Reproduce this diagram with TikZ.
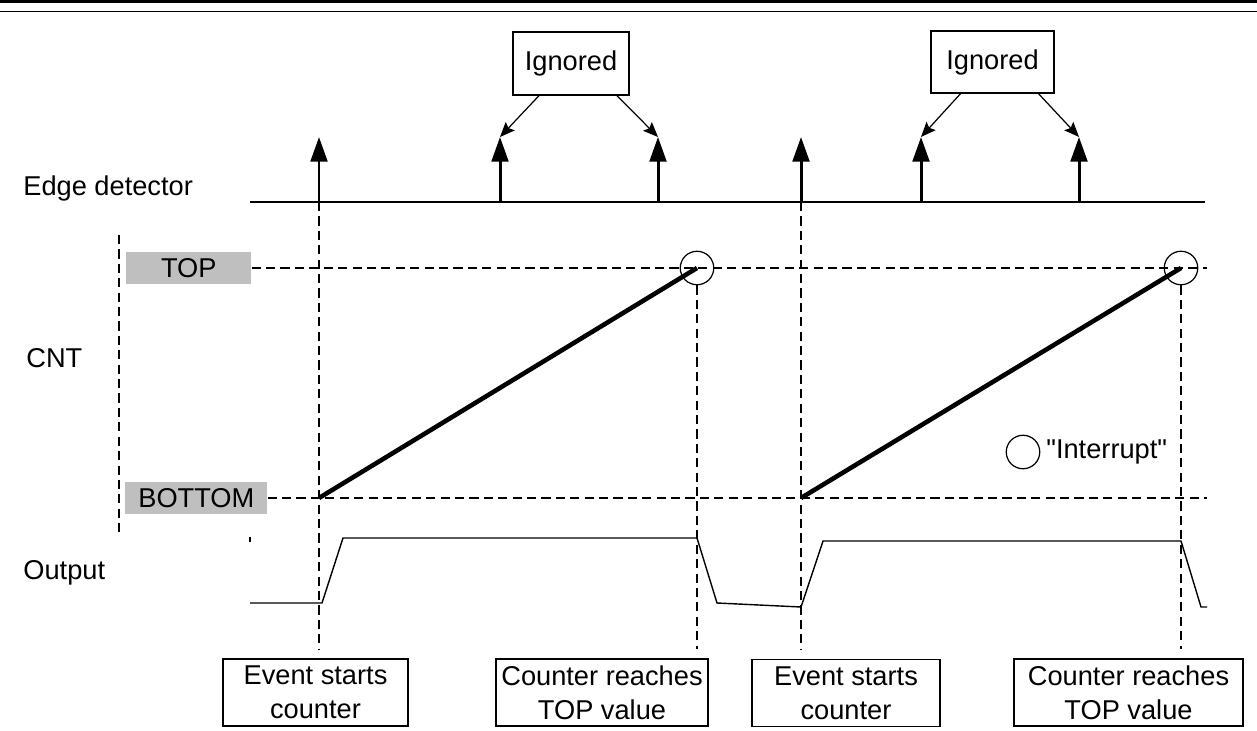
\documentclass[tikz,border=0pt]{standalone}
\usepackage{fontspec}
\setmainfont{Liberation Sans}
\newfontfamily\plainquote{Liberation Sans}
\usetikzlibrary{arrows.meta,calc}

\begin{document}
\begin{tikzpicture}[
  x=0.02cm, y=-0.02cm,
  font=\fontsize{15.5}{19.5}\selectfont,
  box/.style={draw, line width=0.75pt, align=center, inner sep=0pt, minimum width=#1, minimum height=1.34cm},
  lvl/.style={fill=black!25, inner sep=0pt, anchor=west, minimum height=0.65cm},
  lbl/.style={anchor=west, inner sep=0pt},
  guide/.style={line width=0.75pt, dash pattern=on 5.2pt off 3pt},
  pulse/.style={line width=1.7pt, -{Triangle[length=14pt,width=9.5pt]}},
  note/.style={line width=0.7pt, -{Stealth[length=8.5pt,width=7pt,inset=1.5pt]}},
  ramp/.style={line width=2.6pt},
  wave/.style={line width=0.8pt},
  irq/.style={draw, circle, line width=0.7pt, minimum size=0.67cm, inner sep=0pt}
]
\useasboundingbox (0,0) rectangle (1257,730);

% header rules
\draw[line width=1.9pt] (0,1.7) -- (1257,1.7);
\draw[line width=0.75pt] (0,11.3) -- (1257,11.3);

% signal names
\node[lbl] (edgename) at (23,188) {Edge detector};
\node[lbl] (cntname) at (26,358) {CNT};
\node[lbl] (outname) at (23,573) {Output};

% edge detector
\coordinate (edgeL) at (250,202);
\coordinate (edgeR) at (1205,202);
\draw[line width=0.75pt] (edgeL) -- (edgeR);
\foreach \i/\x in {1/319,2/500,3/658,4/801,5/921,6/1079} {
  \coordinate (p\i) at (\x,202);
  \coordinate (pt\i) at (\x,137);
  \draw[pulse] (p\i) -- (pt\i);
}

\node[draw, line width=0.75pt, minimum width=2.32cm, minimum height=1.26cm] (ign1) at (571,63.5) {Ignored};
\node[draw, line width=0.75pt, minimum width=2.46cm, minimum height=1.24cm] (ign2) at (992.5,62) {Ignored};
\draw[note] ($(ign1.south)+(-32,0)$) -- (pt2);
\draw[note] ($(ign1.south)+(46,0)$) -- (pt3);
\draw[note] ($(ign2.south)+(-32,0)$) -- (pt5);
\draw[note] ($(ign2.south)+(46,0)$) -- (pt6);

% counter
\draw[guide] (119,235) -- (119,532);
\node[lvl, minimum width=2.5cm] (top) at (126,268) {TOP};
\node[lvl, minimum width=2.84cm] (bottom) at (125,498) {BOTTOM};
\coordinate (topR) at (1207,268);
\coordinate (botR) at (1207,498);
\draw[guide] (top.east) -- (topR);
\draw[guide] (bottom.east) -- (botR);

\coordinate (r1s) at (319,498);
\coordinate (r1e) at (697,268);
\coordinate (r2s) at (801,498);
\coordinate (r2e) at (1181,268);
\draw[ramp] (r1s) -- (r1e);
\draw[ramp] (r2s) -- (r2e);
\node[irq] (hit1) at (r1e) {};
\node[irq] (hit2) at (r2e) {};

\node[irq] (legirq) at (1023,452) {};
\node[lbl] (legtext) at (1046,452) {\plainquote "Interrupt"};

% output
\draw[wave] (250,537) -- (250,542);
\draw[wave] (250,603) -- (322,603) -- (343,538) -- (697,538) -- (717,603)
  -- (801,607) -- (823,541) -- (1181,541) -- (1201,607) -- (1207,607);

% events
\node[box=3.7cm] (ev1) at (315.5,692.5) {Event starts\\counter};
\node[box=4.24cm] (tv1) at (602,692.5) {Counter reaches\\TOP value};
\node[box=3.76cm] (ev2) at (846,693) {Event starts\\counter};
\node[box=4.58cm] (tv2) at (1128.5,692.5) {Counter reaches\\TOP value};

\draw[guide] (p1) -- ($(p1 |- ev1.north)+(0,-9)$);
\draw[guide] (hit1.south) -- ($(hit1 |- tv1.north)+(0,-9)$);
\draw[guide] (p4) -- ($(p4 |- ev2.north)+(0,-9)$);
\draw[guide] (hit2.south) -- ($(hit2 |- tv2.north)+(0,-9)$);

\end{tikzpicture}
\end{document}
